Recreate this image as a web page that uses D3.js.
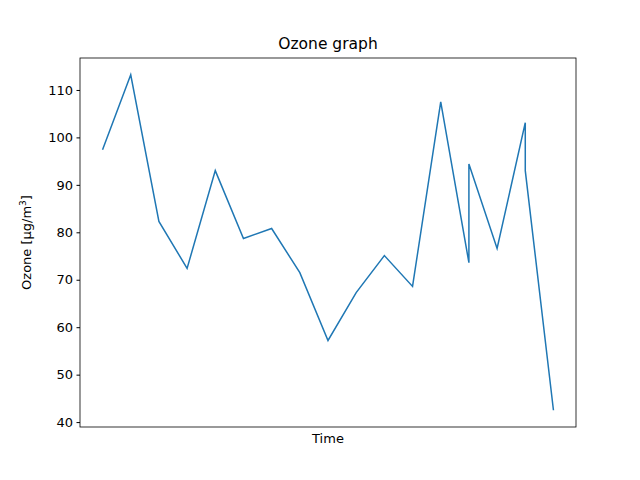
<!DOCTYPE html>
<html>
<head>
<meta charset="utf-8">
<script src="https://cdn.jsdelivr.net/npm/d3@7"></script>
<style>
  body { margin: 0; background: #fff; }
  text { font-family: "DejaVu Sans", sans-serif; }
</style>
</head>
<body>
<div id="wrapper"></div>
<script>
// time index of each reading (some timestamps repeat)
const timeIdx = [0, 1, 2, 3, 4, 5, 6, 7, 8, 9, 10, 11, 12, 13, 13, 14, 15, 15, 16];
const ozone = [97.4, 113.2, 82.3, 72.4, 93.0, 78.7, 80.8, 71.5, 57.2, 67.3, 75.1, 68.6, 107.5, 73.6, 94.4, 76.6, 103.1, 93.0, 42.5];
const yTicks = [40, 50, 60, 70, 80, 90, 100, 110];

const dimensions = {
  width: 640,
  height: 480,
  margins: { top: 58, right: 64, bottom: 53, left: 80 }
};
dimensions.boundedWidth = dimensions.width - dimensions.margins.left - dimensions.margins.right;
dimensions.boundedHeight = dimensions.height - dimensions.margins.top - dimensions.margins.bottom;

const data = timeIdx.map((t, i) => ({ t, v: ozone[i] }));

const wrapper = d3.select("#wrapper")
  .append("svg")
  .attr("width", dimensions.width)
  .attr("height", dimensions.height);

const bounds = wrapper.append("g")
  .attr("transform", `translate(${dimensions.margins.left},${dimensions.margins.top})`);

// matplotlib-style 5% padding
const xExt = d3.extent(timeIdx), yExt = d3.extent(ozone);
const xPad = (xExt[1] - xExt[0]) * 0.05, yPad = (yExt[1] - yExt[0]) * 0.05;

const xScale = d3.scaleLinear()
  .domain([xExt[0] - xPad, xExt[1] + xPad])
  .range([0, dimensions.boundedWidth]);

const yScale = d3.scaleLinear()
  .domain([yExt[0] - yPad, yExt[1] + yPad])
  .range([dimensions.boundedHeight, 0]);

const line = d3.line()
  .x(d => xScale(d.t))
  .y(d => yScale(d.v));

bounds.append("path")
  .datum(data)
  .attr("fill", "none")
  .attr("stroke", "#1f77b4")
  .attr("stroke-width", 1.5)
  .attr("d", line);

const yAxis = bounds.append("g")
  .call(d3.axisLeft(yScale).tickValues(yTicks).tickSize(3.5).tickPadding(3.5));
yAxis.select(".domain").remove();
yAxis.selectAll("text").style("font-size", "13px").attr("fill", "#000");

bounds.append("rect")
  .attr("width", dimensions.boundedWidth)
  .attr("height", dimensions.boundedHeight)
  .attr("fill", "none")
  .attr("stroke", "#000")
  .attr("stroke-width", 0.8);

wrapper.append("text")
  .attr("x", dimensions.margins.left + dimensions.boundedWidth / 2)
  .attr("y", 49)
  .attr("text-anchor", "middle")
  .style("font-size", "15.5px")
  .text("Ozone graph");

wrapper.append("text")
  .attr("x", dimensions.margins.left + dimensions.boundedWidth / 2)
  .attr("y", 443)
  .attr("text-anchor", "middle")
  .style("font-size", "13px")
  .text("Time");

const yLabel = wrapper.append("text")
  .attr("transform", `translate(31,${dimensions.margins.top + dimensions.boundedHeight / 2}) rotate(-90)`)
  .attr("text-anchor", "middle")
  .style("font-size", "13px");
yLabel.append("tspan").text("Ozone [µg/m");
yLabel.append("tspan").attr("dy", -5).style("font-size", "9px").text("3");
yLabel.append("tspan").attr("dy", 5).text("]");
</script>
</body>
</html>
